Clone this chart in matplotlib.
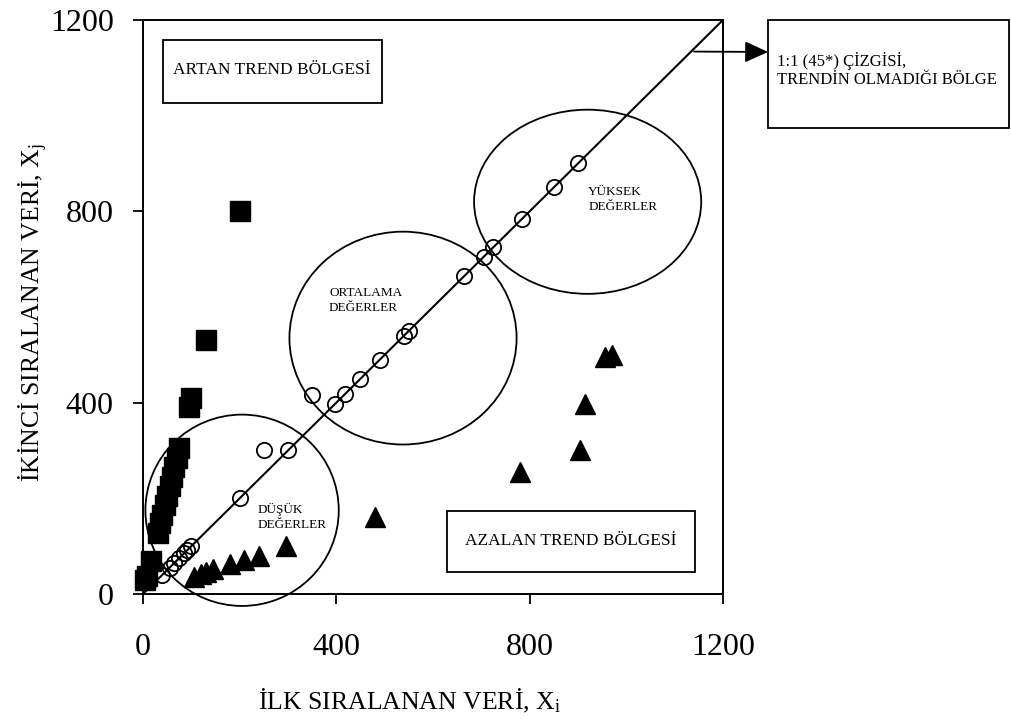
import matplotlib
matplotlib.use('Agg')
import matplotlib.pyplot as plt
from matplotlib.patches import Ellipse, Rectangle

plt.rcParams['font.family'] = ['Liberation Serif', 'DejaVu Serif']
plt.rcParams['mathtext.fontset'] = 'custom'
plt.rcParams['mathtext.rm'] = 'Liberation Serif'

# points near the 1:1 line (no trend)
circ_x = [40, 55, 65, 75, 85, 92, 100, 200, 250, 300, 350, 398, 418, 450, 490, 540, 550, 665, 705, 725, 785, 850, 900]
circ_y = [40, 55, 65, 75, 85, 92, 100, 200, 300, 300, 415, 398, 418, 450, 490, 540, 550, 665, 705, 725, 785, 850, 900]

# increasing trend (above the line)
sq_x = [5, 8, 17, 31, 36, 40, 45, 50, 55, 60, 65, 70, 75, 95, 100, 130, 200]
sq_y = [30, 38, 70, 128, 148, 165, 185, 205, 225, 245, 265, 285, 305, 390, 410, 530, 800]

# decreasing trend (below the line)
tri_x = [105, 120, 130, 145, 180, 210, 240, 295, 480, 780, 905, 915, 955, 970]
tri_y = [35, 42, 47, 52, 62, 72, 80, 100, 160, 255, 300, 397, 495, 500]

ticks = [0, 400, 800, 1200]

fig = plt.figure(figsize=(10.12, 7.22), dpi=100)
ax = fig.add_axes([0.1413, 0.1773, 0.5731, 0.795])

# 1:1 line
ax.plot([0, 1200], [0, 1200], color='black', lw=1.5, zorder=2)

ax.plot(sq_x, sq_y, 's', ms=15, color='black', clip_on=False, zorder=3)
ax.plot(tri_x, tri_y, '^', ms=14, color='black', clip_on=False, zorder=3)
ax.plot(circ_x, circ_y, 'o', ms=11, mfc='none', mec='black', mew=1.3,
        clip_on=False, zorder=4)

# value groups
for (cx, cy), w, h in [((205, 175), 400, 400),
                       ((538, 535), 470, 445),
                       ((920, 820), 470, 385)]:
    ax.add_patch(Ellipse((cx, cy), w, h, fill=False, edgecolor='black',
                         lw=1.3, clip_on=False, zorder=2))

ax.text(238, 161, 'DÜŞÜK\nDEĞERLER', fontsize=9.5, ha='left', va='center',
        linespacing=1.35)
ax.text(385, 613, 'ORTALAMA\nDEĞERLER', fontsize=9.5, ha='left', va='center',
        linespacing=1.35)
ax.text(921, 824, 'YÜKSEK\nDEĞERLER', fontsize=9.5, ha='left', va='center',
        linespacing=1.35)

# trend region boxes
ax.add_patch(Rectangle((41, 1027), 453, 132, fill=False, edgecolor='black',
                       lw=1.3, zorder=2))
ax.text(267, 1095, 'ARTAN TREND BÖLGESİ', fontsize=12.5, ha='center', va='center')
ax.add_patch(Rectangle((629, 46), 513, 128, fill=False, edgecolor='black',
                       lw=1.3, zorder=2))
ax.text(885, 110, 'AZALAN TREND BÖLGESİ', fontsize=12.5, ha='center', va='center')

# note box outside the axes with arrow from the 1:1 line
fig.patches.append(Rectangle((0.759, 0.8227), 0.238, 0.1496, fill=False,
                             edgecolor='black', lw=1.3,
                             transform=fig.transFigure, figure=fig))
fig.text(0.768, 0.903, '1:1 (45*) ÇİZGİSİ,\nTRENDİN OLMADIĞI BÖLGE',
         fontsize=12, ha='left', va='center', linespacing=1.15)
ax.annotate('', xy=(0.759, 0.928), xycoords='figure fraction',
            xytext=(1140, 1134), textcoords='data',
            arrowprops=dict(arrowstyle='-|>,head_length=0.55,head_width=0.25',
                            color='black', lw=1.3,
                            mutation_scale=26, shrinkA=0, shrinkB=0),
            annotation_clip=False)

ax.set_xlim(0, 1200)
ax.set_ylim(0, 1200)
ax.set_xticks(ticks)
ax.set_yticks(ticks)
ax.tick_params(direction='out', length=7, width=1.3, labelsize=23,
               top=False, right=False)
ax.tick_params(axis='x', pad=21)
ax.tick_params(axis='y', pad=14)
for s in ax.spines.values():
    s.set_linewidth(1.4)

ax.set_xlabel(r'İLK SIRALANAN VERİ, $\mathregular{X_i}$', fontsize=18.5)
ax.set_ylabel(r'İKİNCİ SIRALANAN VERİ, $\mathregular{X_j}$', fontsize=18.5)
ax.xaxis.set_label_coords(0.4586, -0.162)
ax.yaxis.set_label_coords(-0.16, 0.49)

fig.savefig('out.png', dpi=100, facecolor='white')
